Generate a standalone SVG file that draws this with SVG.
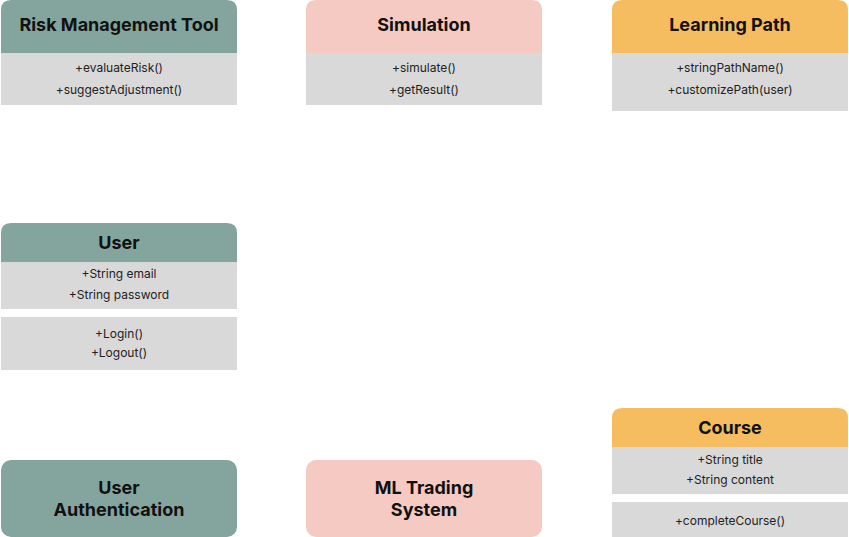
<svg xmlns="http://www.w3.org/2000/svg" width="849" height="537" viewBox="0 0 849 537">
<style>
.t{font-family:Inter,"Noto Sans","Liberation Sans",sans-serif;font-weight:700;font-size:18px;fill:#111;text-anchor:middle}
.b{font-family:Inter,"Noto Sans","Liberation Sans",sans-serif;font-size:12px;fill:#222;text-anchor:middle}
.g{fill:#84a59d}.p{fill:#f5cac3}.o{fill:#f6bd60}.s{fill:#d9d9d9}
</style>
<rect width="849" height="537" fill="#fff"/>
<g id="connectors"></g>
<g id="risk">
<path class="g" d="M1,53 V10 Q1,0 11,0 H227 Q237,0 237,10 V53 Z"/>
<rect class="s" x="1" y="53" width="236" height="52"/>
<text class="t" x="119" y="31">Risk Management Tool</text>
<text class="b" x="119" y="72">+evaluateRisk()</text>
<text class="b" x="119" y="94">+suggestAdjustment()</text>
</g>
<g id="simulation">
<path class="p" d="M306,53 V10 Q306,0 316,0 H532 Q542,0 542,10 V53 Z"/>
<rect class="s" x="306" y="53" width="236" height="52"/>
<text class="t" x="424" y="31">Simulation</text>
<text class="b" x="424" y="72">+simulate()</text>
<text class="b" x="424" y="94">+getResult()</text>
</g>
<g id="learning">
<path class="o" d="M612,53 V10 Q612,0 622,0 H838 Q848,0 848,10 V53 Z"/>
<rect class="s" x="612" y="53" width="236" height="58"/>
<text class="t" x="730" y="31">Learning Path</text>
<text class="b" x="730" y="72">+stringPathName()</text>
<text class="b" x="730" y="94">+customizePath(user)</text>
</g>
<g id="user">
<path class="g" d="M1,262 V233 Q1,223 11,223 H227 Q237,223 237,233 V262 Z"/>
<rect class="s" x="1" y="262" width="236" height="47"/>
<rect class="s" x="1" y="317" width="236" height="53"/>
<text class="t" x="119" y="249">User</text>
<text class="b" x="119" y="278">+String email</text>
<text class="b" x="119" y="299">+String password</text>
<text class="b" x="119" y="338">+Login()</text>
<text class="b" x="119" y="357">+Logout()</text>
</g>
<g id="course">
<path class="o" d="M612,447 V418 Q612,408 622,408 H838 Q848,408 848,418 V447 Z"/>
<rect class="s" x="612" y="447" width="236" height="47"/>
<rect class="s" x="612" y="502" width="236" height="35"/>
<text class="t" x="730" y="434">Course</text>
<text class="b" x="730" y="464">+String title</text>
<text class="b" x="730" y="484">+String content</text>
<text class="b" x="730" y="525">+completeCourse()</text>
</g>
<g id="auth">
<rect class="g" x="1" y="460" width="236" height="77" rx="10"/>
<text class="t" x="119" y="494">User</text>
<text class="t" x="119" y="516">Authentication</text>
</g>
<g id="ml">
<rect class="p" x="306" y="460" width="236" height="77" rx="10"/>
<text class="t" x="424" y="494">ML Trading</text>
<text class="t" x="424" y="516">System</text>
</g>
</svg>
